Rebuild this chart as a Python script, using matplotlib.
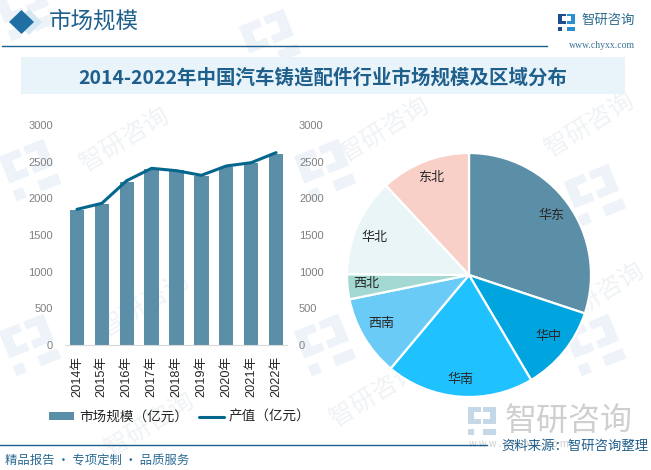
import matplotlib
matplotlib.use("Agg")
import matplotlib.pyplot as plt
from matplotlib.patches import Polygon, Rectangle
from matplotlib.transforms import Affine2D

plt.rcParams['font.family'] = ['Noto Sans CJK SC', 'DejaVu Sans']
TICK_FONT = ['Liberation Sans', 'Noto Sans CJK SC']

W, H = 651, 470

years = ['2014年', '2015年', '2016年', '2017年', '2018年', '2019年', '2020年', '2021年', '2022年']
market_size = [1841, 1923, 2227, 2395, 2386, 2309, 2423, 2477, 2605]
output_value = [1850, 1932, 2241, 2409, 2377, 2314, 2441, 2486, 2623]
y_ticks = [0, 500, 1000, 1500, 2000, 2500, 3000]

regions = ['华东', '华中', '华南', '西南', '西北', '华北', '东北']
region_share = [30.1, 11.4, 19.6, 10.7, 3.3, 13.0, 11.9]
region_colors = ['#5b8fa8', '#00a5e0', '#1fc1ff', '#6accf6', '#a3d9d2', '#e9f5f6', '#f9d0c7']

BAR = '#5b8fa8'
LINE = '#05668d'
GRAY = '#7f7f7f'
BLUE = '#1f5f8b'

fig = plt.figure(figsize=(W / 100, H / 100), dpi=100, facecolor='white')

# Background layer in pixel coordinates
bg = fig.add_axes([0, 0, 1, 1], zorder=0)
bg.set_xlim(0, W)
bg.set_ylim(H, 0)
bg.axis('off')


def logo(ax, x, y, s, color, rot=0.0, z=1, accent=None):
    tr = Affine2D().scale(s).rotate_deg(rot).translate(x, y) + ax.transData
    accent = accent or color
    ax.add_patch(Polygon([(-1, -1), (-.1, -1), (-.1, -.65), (-.55, -.65), (-.55, -.15), (-.1, -.15),
                          (-.1, .2), (-1, .2)], closed=True, fc=color, ec='none', transform=tr, zorder=z))
    ax.add_patch(Polygon([(.1, -1), (1, -1), (1, .2), (.1, .2), (.1, -.15), (.55, -.15), (.55, -.65), (.1, -.65)],
                         closed=True, fc=accent, ec='none', transform=tr, zorder=z))
    ax.add_patch(Polygon([(.1, .55), (1, .55), (1, 1), (.1, 1)], closed=True, fc=accent, ec='none',
                         transform=tr, zorder=z))
    ax.add_patch(Rectangle((-1, .55), .45, .45, fc=color, ec='none', transform=tr, zorder=z))


WM = '#edf3f8'
for lx, ly in [(30, 170), (30, 345), (325, 170), (325, 345), (595, 195), (595, 345), (270, 40), (25, 10)]:
    logo(bg, lx, ly, 24, WM, rot=-22)
for tx, ty in [(125, 140), (385, 130), (145, 305), (375, 395), (150, 425), (590, 125), (600, 295)]:
    bg.text(tx, ty, '智研咨询', fontsize=18, color='#f0f3f6', rotation=32, ha='center', va='center', zorder=1)

# Header
bg.add_patch(Polygon([(16, 22), (29, 9), (42, 22), (29, 35)], closed=True, fc='#d6e8f3', ec='none', zorder=2))
bg.add_patch(Polygon([(9, 22), (21.5, 10), (34, 22), (21.5, 34)], closed=True, fc='#1f6fa5', ec='none', zorder=3))
bg.text(49, 21, '市场规模', fontsize=16.2, color=BLUE, va='center', ha='left', zorder=3)
bg.plot([2, 547], [46, 46], color=BLUE, lw=1, zorder=3)
logo(bg, 566.5, 22, 8.5, '#1f4e8c', z=3, accent='#2a8fd0')
bg.text(582, 20, '智研咨询', fontsize=9.6, color='#2c6a8f', va='center', ha='left', zorder=3)
bg.text(635, 45, 'www.chyxx.com', fontsize=7, color='#3b7396', va='center', ha='right', family='Liberation Serif',
        zorder=3)

# Title band
bg.add_patch(Rectangle((21, 57), 604, 37, fc='#e8f3fa', ec='none', zorder=2))
bg.text(323, 78, '2014-2022年中国汽车铸造配件行业市场规模及区域分布', fontsize=14, fontweight='bold',
        color=BLUE, ha='center', va='center', zorder=3)

# Footer
bg.plot([0, 487], [445, 445], color=BLUE, lw=1, zorder=3)
bg.text(5, 460, '精品报告 · 专项定制 · 品质服务', fontsize=8.9, color='#2a6a94', ha='left', va='center', zorder=3)
logo(bg, 482, 421, 14, '#c5d8e8', z=2)
bg.text(505, 421, '智研咨询', fontsize=23, color='#cfcfcf', ha='left', va='center', zorder=2)
bg.text(469, 444, 'w w w . c h y x x . c o m', fontsize=7, color='#cfcfcf', ha='left', va='center', zorder=2)
bg.text(648, 446, '资料来源：智研咨询整理', fontsize=9.6, color=BLUE, ha='right', va='center', zorder=3)

# Combo chart
ax_l, ax_r, ax_top, ax_bot = 65, 287, 125, 345
ax = fig.add_axes([ax_l / W, 1 - ax_bot / H, (ax_r - ax_l) / W, (ax_bot - ax_top) / H], zorder=2)
ax.patch.set_alpha(0)
xs = list(range(len(years)))
ax.bar(xs, market_size, width=0.58, color=BAR, zorder=2, label='市场规模（亿元）')
ax.set_xlim(-0.48, 8.44)
ax.set_ylim(0, 3000)
ax.set_yticks(y_ticks)
ax.set_xticks(xs)
ax.set_xticklabels(years, rotation=90, fontsize=9.2, color='#262626', family=TICK_FONT)
ax.tick_params(axis='both', length=0)
ax.tick_params(axis='y', labelsize=8, labelcolor=GRAY, pad=8.6)
ax.tick_params(axis='x', pad=8)
for lab in ax.get_yticklabels():
    lab.set_family(TICK_FONT)
for side in ['top', 'left', 'right']:
    ax.spines[side].set_visible(False)
ax.spines['bottom'].set_color('#d9d9d9')
ax.spines['bottom'].set_linewidth(0.8)

ax2 = ax.twinx()
ax2.patch.set_alpha(0)
ax2.plot(xs, output_value, color=LINE, lw=2.2, zorder=3, label='产值（亿元）', solid_capstyle='round')
ax2.set_ylim(0, 3000)
ax2.set_yticks(y_ticks)
ax2.tick_params(axis='y', length=0, labelsize=8, labelcolor=GRAY, pad=8.6)
for lab in ax2.get_yticklabels():
    lab.set_family(TICK_FONT)
for side in ['top', 'left', 'right', 'bottom']:
    ax2.spines[side].set_visible(False)

handles = ax.get_legend_handles_labels()[0] + ax2.get_legend_handles_labels()[0]
labels = ax.get_legend_handles_labels()[1] + ax2.get_legend_handles_labels()[1]
fig.legend(handles, labels, loc='center', bbox_to_anchor=(180 / W, 1 - 417 / H), ncol=2, frameon=False,
           fontsize=9.8, labelcolor='#262626', handlelength=1.84, handleheight=0.55, columnspacing=0.75,
           handletextpad=0.37, borderpad=0)

# Pie chart
cx, cy, r = 469, 275, 122
pie_ax = fig.add_axes([(cx - r) / W, 1 - (cy + r) / H, 2 * r / W, 2 * r / H], zorder=2)
pie_ax.patch.set_alpha(0)
wedges, texts = pie_ax.pie(region_share, colors=region_colors, startangle=90, counterclock=False, radius=1,
                           labels=regions, labeldistance=0.72,
                           wedgeprops=dict(edgecolor='white', linewidth=1.6))
label_px = [(551, 215), (548, 336), (460, 379), (381, 323), (366, 283), (374, 237), (431, 177)]
for t, (px, py) in zip(texts, label_px):
    t.set_fontsize(9.4)
    t.set_color('#262626')
    t.set_ha('center')
    t.set_va('center')
    t.set_position(((px - cx) / r, (cy - py) / r))
pie_ax.set_xlim(-1, 1)
pie_ax.set_ylim(-1, 1)

fig.savefig('out.png', dpi=100, facecolor='white')
